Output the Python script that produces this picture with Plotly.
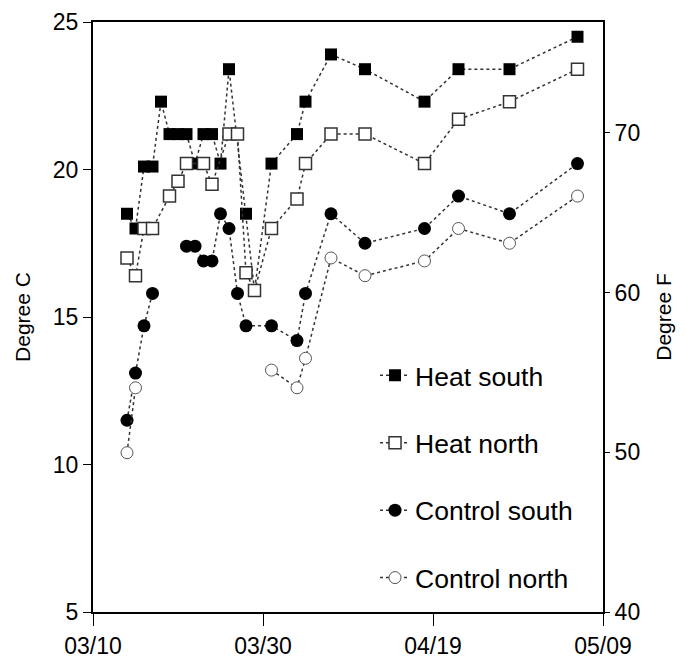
import plotly.graph_objects as go

YEAR = "2001"

# ---- data ----
heat_south_dates = ["03/14", "03/15", "03/16", "03/17", "03/18", "03/19", "03/20", "03/21",
                    "03/22", "03/23", "03/24", "03/25", "03/26", "03/28", "03/29", "03/31",
                    "04/03", "04/04", "04/07", "04/11", "04/18", "04/22", "04/28", "05/06"]
heat_south = [18.5, 18.0, 20.1, 20.1, 22.3, 21.2, 21.2, 21.2,
              20.2, 21.2, 21.2, 20.2, 23.4, 18.5, 15.9, 20.2,
              21.2, 22.3, 23.9, 23.4, 22.3, 23.4, 23.4, 24.5]

heat_north_dates = ["03/14", "03/15", "03/16", "03/17", "03/19", "03/20", "03/21", "03/23",
                    "03/24", "03/26", "03/27", "03/28", "03/29", "03/31", "04/03", "04/04",
                    "04/07", "04/11", "04/18", "04/22", "04/28", "05/06"]
heat_north = [17.0, 16.4, 18.0, 18.0, 19.1, 19.6, 20.2, 20.2,
              19.5, 21.2, 21.2, 16.5, 15.9, 18.0, 19.0, 20.2,
              21.2, 21.2, 20.2, 21.7, 22.3, 23.4]

control_south_dates = ["03/14", "03/15", "03/16", "03/17", "03/19", "03/21", "03/22", "03/23",
                       "03/24", "03/25", "03/26", "03/27", "03/28", "03/31", "04/03", "04/04",
                       "04/07", "04/11", "04/18", "04/22", "04/28", "05/06"]
control_south = [11.5, 13.1, 14.7, 15.8, None, 17.4, 17.4, 16.9,
                 16.9, 18.5, 18.0, 15.8, 14.7, 14.7, 14.2, 15.8,
                 18.5, 17.5, 18.0, 19.1, 18.5, 20.2]

control_north_dates = ["03/14", "03/15", "03/20", "03/31", "04/03", "04/04", "04/07",
                       "04/11", "04/18", "04/22", "04/28", "05/06"]
control_north = [10.4, 12.6, None, 13.2, 12.6, 13.6, 17.0,
                 16.4, 16.9, 18.0, 17.5, 19.1]

x_tick_labels = ["03/10", "03/30", "04/19", "05/09"]
y_c_ticks = [5, 10, 15, 20, 25]
y_f_ticks = [40, 50, 60, 70]


def to_date(md):
    m, d = md.split("/")
    return f"{YEAR}-{m}-{d}"


FONT = "Liberation Sans, Arial, sans-serif"
LINE = dict(color="#333333", width=1.5, dash="dot")

fig = go.Figure()

fig.add_trace(go.Scatter(
    x=[to_date(d) for d in heat_south_dates], y=heat_south, name="Heat south",
    mode="lines+markers", line=LINE, legendgroup="a",
    marker=dict(symbol="square", size=12, color="black", line=dict(width=0))))

fig.add_trace(go.Scatter(
    x=[to_date(d) for d in heat_north_dates], y=heat_north, name="Heat north",
    mode="lines+markers", line=LINE, legendgroup="b",
    marker=dict(symbol="square", size=12, color="white", line=dict(width=1.5, color="#333333"))))

fig.add_trace(go.Scatter(
    x=[to_date(d) for d in control_south_dates], y=control_south, name="Control south",
    mode="lines+markers", line=LINE, legendgroup="c", connectgaps=False,
    marker=dict(symbol="circle", size=13, color="black", line=dict(width=0))))

fig.add_trace(go.Scatter(
    x=[to_date(d) for d in control_north_dates], y=control_north, name="Control north",
    mode="lines+markers", line=LINE, legendgroup="d", connectgaps=False,
    marker=dict(symbol="circle", size=12, color="white", line=dict(width=1, color="#555555"))))

# invisible trace to carry the Fahrenheit axis
fig.add_trace(go.Scatter(x=[], y=[], yaxis="y2", showlegend=False, hoverinfo="skip"))

fig.update_layout(
    width=685, height=669,
    margin=dict(l=85, r=90, t=14, b=65),
    paper_bgcolor="white", plot_bgcolor="white",
    font=dict(family=FONT, color="black", size=23),
    showlegend=True,
    legend=dict(x=0.553, y=0.4415, xanchor="left", yanchor="top",
                font=dict(size=26.5, family=FONT), bgcolor="rgba(0,0,0,0)",
                traceorder="grouped", tracegroupgap=30),
    xaxis=dict(
        type="date", automargin=False,
        range=[to_date("03/10"), to_date("05/09")],
        tickvals=[to_date(t) for t in x_tick_labels], ticktext=x_tick_labels,
        ticks="outside", ticklen=12, tickwidth=1, tickcolor="black",
        showline=True, linecolor="black", linewidth=2, mirror=True,
        showgrid=False, zeroline=False, tickfont=dict(size=23),
    ),
    yaxis=dict(
        range=[5, 25], tickvals=y_c_ticks, automargin=False,
        ticks="outside", ticklen=8, tickwidth=1, tickcolor="black",
        showline=True, linecolor="black", linewidth=2, mirror=True,
        showgrid=False, zeroline=False, tickfont=dict(size=23),
        title=dict(text="Degree C", font=dict(size=21), standoff=16),
    ),
    yaxis2=dict(
        overlaying="y", side="right", automargin=False,
        range=[40, 76.95], tickvals=y_f_ticks,
        ticks="outside", ticklen=6, tickwidth=1, tickcolor="black",
        showline=False, showgrid=False, zeroline=False, tickfont=dict(size=23),
        title=dict(text="Degree F", font=dict(size=21), standoff=17),
    ),
)

fig.write_html("out.html")
